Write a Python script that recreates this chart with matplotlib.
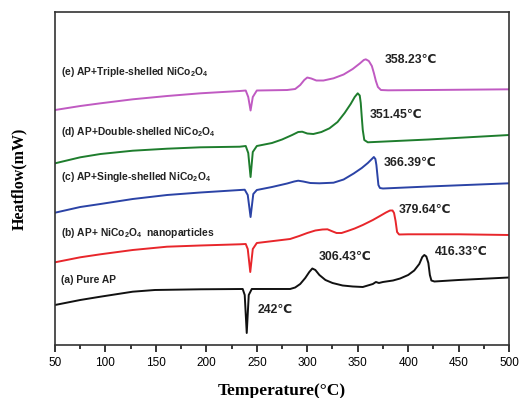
import matplotlib
matplotlib.use("Agg")
import matplotlib.pyplot as plt
from matplotlib.ticker import MultipleLocator

# DSC traces, heat flow in arbitrary units (curves already offset vertically)
temp_a = [50, 75, 95, 127, 149, 194, 236, 238, 240, 242, 245, 283, 288, 293, 298,
          302, 305, 308, 312, 318, 325, 335, 345, 355, 365, 368, 371, 375, 385, 392,
          400, 406, 411, 414, 416, 418, 420, 421.5, 423, 426, 450, 500]
flow_a = [40, 45, 48.3, 53.3, 55, 55.7, 56, 50, 12, 50, 56, 56, 57.5, 61, 67,
          73, 76.5, 75, 70, 65, 62, 59.5, 58.5, 58, 61, 63, 62, 63, 64.5, 66.5,
          70, 74.5, 81, 88, 90, 88.5, 82, 70, 64.5, 63.5, 65, 67.5]

temp_b = [50, 75, 95, 127, 161, 194, 233, 239, 241, 243.5, 246, 250, 283, 292, 300,
          308, 315, 320, 324, 329, 334, 340, 347, 355, 365, 372, 378, 382, 384.5, 386,
          387.5, 389, 391, 400, 450, 500]
flow_b = [82.7, 87.7, 90.7, 95, 98.3, 99.5, 100.7, 101, 96, 73, 96, 102, 106, 109, 112,
          114.5, 115.5, 115.7, 114, 112, 112, 114, 116.5, 120, 125, 129, 132.5, 134.5, 134.5, 132,
          124, 113, 110.5, 110.7, 110.7, 110]

temp_c = [50, 75, 95, 127, 161, 194, 238, 241, 243.8, 246.5, 250, 265, 280, 287,
          291, 296, 303, 312, 326, 336, 346, 354, 360, 364, 366, 367.5, 368.5, 369.5,
          370.5, 372, 375, 420, 500]
flow_c = [132.3, 138, 141, 146, 150, 152.5, 155.3, 150, 128, 151, 155, 158, 161.5, 163.5,
          164.3, 163.5, 162, 161.7, 162.3, 165.5, 171.5, 177, 182, 186, 188, 186, 180, 170,
          160, 157, 156.5, 158.5, 161.7]

temp_d = [50, 75, 95, 127, 161, 194, 233, 239, 241.5, 243.8, 246, 250, 265, 275,
          285, 291, 295, 300, 306, 314, 322, 330, 337, 343, 347, 350, 352, 353, 354,
          355, 356.5, 360, 420, 500]
flow_d = [181.7, 187.7, 191, 194.3, 196.3, 197.7, 198.3, 199, 192, 168, 193, 199, 202, 205.5,
          210, 213, 213.3, 211.5, 211, 213, 216.7, 223, 232, 241, 248, 251.7, 249.5, 242, 228,
          215, 205, 202.7, 205.5, 210]

temp_e = [50, 75, 95, 127, 161, 194, 233, 239, 241.5, 243.8, 246, 250, 280, 288,
          293, 297, 300, 304, 309, 316, 326, 336, 345, 352, 356, 358, 361, 364, 366,
          368, 370, 373, 380, 420, 500]
flow_e = [235, 239, 241.7, 245.7, 249, 251.7, 254, 254.5, 248, 234.5, 248, 254.5, 255, 256,
          260, 265, 267.5, 266.5, 264.5, 264.5, 266.7, 270.5, 276, 281.5, 285, 285.7, 284, 279, 272,
          264, 258, 255, 254.7, 255, 255.7]

series_labels = [
    "(a) Pure AP",
    r"(b) AP+ NiCo$_\mathbf{2}$O$_\mathbf{4}$  nanoparticles",
    r"(c) AP+Single-shelled NiCo$_\mathbf{2}$O$_\mathbf{4}$",
    r"(d) AP+Double-shelled NiCo$_\mathbf{2}$O$_\mathbf{4}$",
    r"(e) AP+Triple-shelled NiCo$_\mathbf{2}$O$_\mathbf{4}$",
]
label_y = [65, 112, 168, 213, 273]
colors = ["#111111", "#e8262b", "#2b43a6", "#1e7d2d", "#c05ac2"]

peak_text = ["242℃", "306.43℃", "416.33℃", "379.64℃", "366.39℃", "351.45℃", "358.23℃"]
peak_x = [251, 311, 426, 391, 376, 362, 377]
peak_y = [35, 88, 93, 135, 182, 230, 285]

plt.rcParams["font.family"] = ["Liberation Sans", "DejaVu Sans"]
plt.rcParams["mathtext.fontset"] = "custom"
plt.rcParams["mathtext.rm"] = "Liberation Sans:bold"
plt.rcParams["mathtext.bf"] = "Liberation Sans:bold"

fig = plt.figure(figsize=(5.2, 3.98), dpi=100)
ax = fig.add_axes([0.1058, 0.1332, 0.8732, 0.8366])

curves = [(temp_a, flow_a), (temp_b, flow_b), (temp_c, flow_c),
          (temp_d, flow_d), (temp_e, flow_e)]
for (t, f), c in zip(curves, colors):
    ax.plot(t, f, color=c, lw=1.4, solid_joinstyle="round")

for lab, y in zip(series_labels, label_y):
    ax.text(56, y, lab, fontsize=7.4, fontweight="bold", color="#222222",
            va="center", ha="left")

for s, x, y in zip(peak_text, peak_x, peak_y):
    ax.text(x, y, s, fontsize=8.8, fontweight="bold", color="#222222",
            va="center", ha="left", family=["Liberation Sans", "DejaVu Sans"])

ax.set_xlim(50, 500)
ax.set_ylim(0, 333)
ax.xaxis.set_major_locator(MultipleLocator(50))
ax.xaxis.set_minor_locator(MultipleLocator(25))
ax.tick_params(axis="x", which="major", length=5, width=1.1, labelsize=8.5, pad=4)
ax.tick_params(axis="x", which="minor", length=3, width=1.1)
ax.set_yticks([])
for sp in ax.spines.values():
    sp.set_linewidth(1.2)
    sp.set_color("#333333")

ax.set_xlabel("Temperature(°C)", fontsize=12.5, fontweight="bold",
              family="Liberation Serif", labelpad=10)
ax.set_ylabel("Heatflow(mW)", fontsize=11.5, fontweight="bold",
              family="Liberation Serif", labelpad=20)

fig.savefig("out.png", dpi=100)
